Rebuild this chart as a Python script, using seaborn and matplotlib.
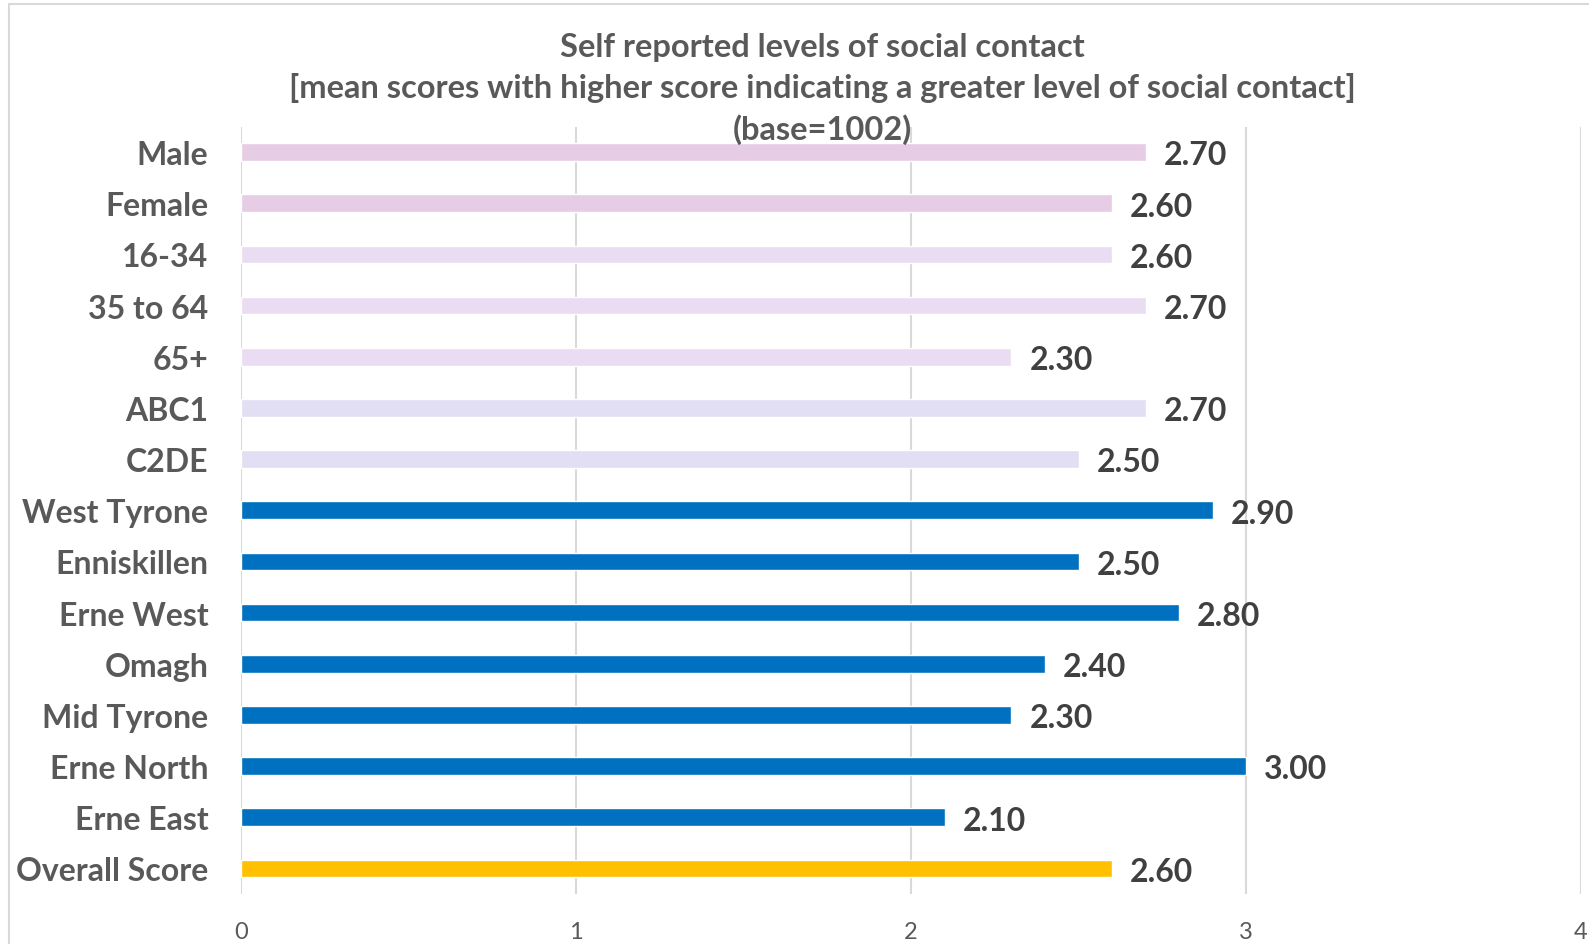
import pandas as pd
import matplotlib.pyplot as plt
import seaborn as sns
from matplotlib.patches import Rectangle

# 数据
categories = ['Male', 'Female', '16-34', '35 to 64', '65+', 'ABC1', 'C2DE',
              'West Tyrone', 'Enniskillen', 'Erne West', 'Omagh', 'Mid Tyrone',
              'Erne North', 'Erne East', 'Overall Score']
scores = [2.70, 2.60, 2.60, 2.70, 2.30, 2.70, 2.50,
          2.90, 2.50, 2.80, 2.40, 2.30, 3.00, 2.10, 2.60]
bar_colors = ['#E6CCE4', '#E6CCE4', '#EADCF2', '#EADCF2', '#EADCF2', '#E2DEF4', '#E2DEF4',
              '#0070C0', '#0070C0', '#0070C0', '#0070C0', '#0070C0', '#0070C0', '#0070C0',
              '#FFC000']
x_ticks = [0, 1, 2, 3, 4]

df = pd.DataFrame({'category': categories, 'score': scores})

sns.set_style('white')
plt.rcParams['font.family'] = ['Lato', 'DejaVu Sans']

fig = plt.figure(figsize=(15.89, 9.45), dpi=100)
ax = fig.add_axes([241 / 1589, 1 - 895 / 945, (1581 - 241) / 1589, (895 - 127.5) / 945])

sns.barplot(data=df, x='score', y='category', hue='category', palette=bar_colors,
            saturation=1, legend=False, width=0.345, ax=ax, zorder=3)

ax.set_xlim(0, 4)
ax.set_ylim(len(categories) - 0.5, -0.5)
ax.set_xticks(x_ticks)
ax.set_xticklabels([str(t) for t in x_ticks])
ax.grid(axis='x', color='#D9D9D9', linewidth=1.5, zorder=0)
ax.set_axisbelow(True)
for s in ax.spines.values():
    s.set_visible(False)
ax.tick_params(left=False, bottom=False)
ax.tick_params(axis='x', labelsize=17, labelcolor='#595959', pad=16)
ax.tick_params(axis='y', labelsize=23, labelcolor='#595959', pad=20)
for lbl in ax.get_yticklabels():
    lbl.set_fontweight('bold')
ax.set_xlabel('')
ax.set_ylabel('')

# 数值标签
for i, v in enumerate(scores):
    ax.annotate(f'{v:.2f}', xy=(v, i), xytext=(13, -2), textcoords='offset points',
                ha='left', va='center', fontsize=23, fontweight='bold', color='#404040')

title_x = 822 / 1589
fig.text(title_x, 1 - 47 / 945, 'Self reported levels of social contact', ha='center', va='center',
         fontsize=23.5, fontweight='bold', color='#595959')
fig.text(title_x, 1 - 88 / 945, '[mean scores with higher score indicating a greater level of social contact]',
         ha='center', va='center', fontsize=23.5, fontweight='bold', color='#595959')
fig.text(title_x, 1 - 130 / 945, '(base=1002)', ha='center', va='center',
         fontsize=23.5, fontweight='bold', color='#595959')

# 外框
fig.patches.append(Rectangle((9 / 1589, -0.02), 1.1, 1 - 5 / 945 + 0.02,
                             transform=fig.transFigure, fill=False,
                             edgecolor='#D9D9D9', linewidth=1.5))

fig.savefig('out.png', dpi=100)
